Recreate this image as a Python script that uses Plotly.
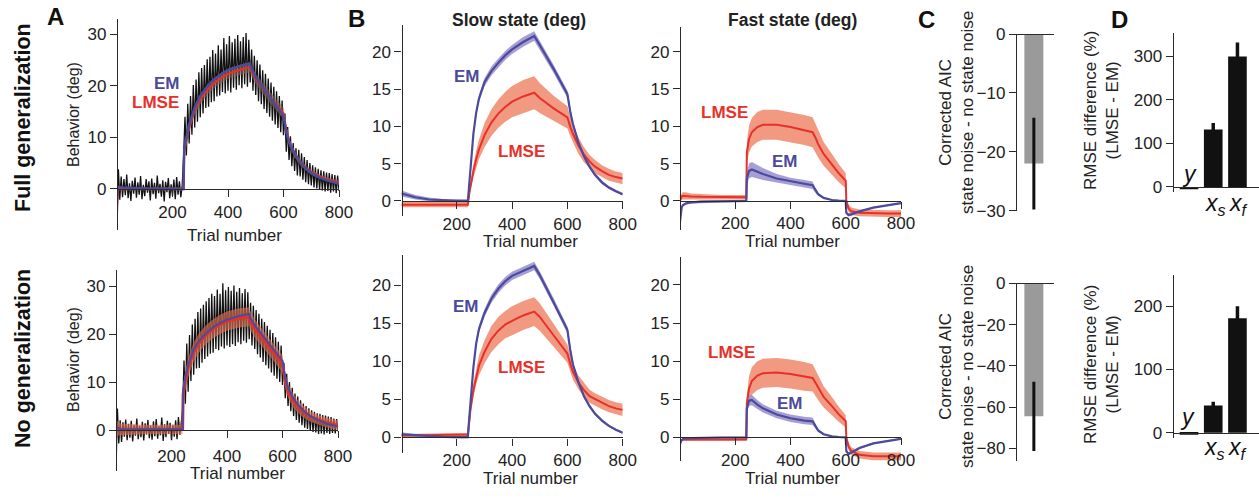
import plotly.graph_objects as go

W, H = 1259, 502
FONT = "Liberation Sans, Arial, sans-serif"

# ---------------- DATA ----------------
# Panel A: measured behaviour, one value every 5th trial (0..800)
A1_behavior = [
    -8.0, 3.8, -2.1, 2.4, -1.6, 1.9, -1.2, 2.8,
    -1.8, 1.1, -2.3, 1.6, -0.9, 2.2, -1.7, 1.3,
    -1.1, 2.5, -2.0, 0.8, -1.4, 1.9, -0.7, 1.5,
    -2.2, 2.0, -1.0, 1.2, -1.9, 2.6, -0.8, 1.0,
    -1.5, 1.7, -2.4, 1.4, -0.6, 2.1, -1.8, 0.9,
    -1.3, 1.8, -2.0, 2.3, -1.1, 1.5, -1.6, 0.7,
    6.5, 14.0, 6.5, 16.5, 8.8, 18.0, 10.5, 20.1,
    11.9, 21.2, 13.0, 22.6, 13.9, 23.4, 14.6, 24.0,
    15.7, 25.1, 15.9, 25.6, 16.8, 26.9, 17.0, 26.2,
    17.9, 27.8, 18.1, 27.0, 18.8, 29.2, 18.5, 28.0,
    19.0, 29.6, 18.7, 28.4, 19.6, 29.1, 19.2, 29.8,
    20.1, 28.6, 19.5, 29.4, 20.3, 30.2, 19.8, 28.9,
    20.6, 27.0, 19.0, 25.8, 18.2, 24.9, 17.0, 24.1,
    16.4, 23.0, 15.5, 22.3, 14.7, 21.4, 14.0, 20.6,
    13.2, 19.8, 12.5, 18.9, 11.8, 18.0, 11.0, 17.1,
    10.4, 14.6, 7.2, 12.0, 5.6, 10.2, 4.4, 8.9,
    3.5, 7.9, 2.6, 7.6, 2.4, 6.9, 1.8, 6.2,
    1.3, 5.6, 0.9, 5.0, 0.7, 4.6, 0.3, 4.2,
    0.1, 3.9, -0.2, 3.6, -0.3, 3.4, -0.5, 3.2,
    -0.4, 3.1, -0.7, 2.9, -0.5, 2.7, -0.8, 2.6,
    -0.4]
A2_behavior = [
    -8.5, 4.5, -2.8, 2.0, -2.5, 1.6, -1.4, 2.2,
    -2.1, 1.3, -1.6, 1.9, -2.4, 1.1, -1.2, 2.4,
    -1.9, 0.9, -1.5, 1.7, -2.2, 1.4, -0.9, 2.1,
    -1.7, 1.0, -2.0, 1.8, -1.3, 2.3, -1.8, 0.8,
    -1.1, 2.6, -2.3, 1.2, -1.5, 1.9, -0.8, 1.5,
    -2.1, 1.1, -1.4, 2.0, -1.9, 2.7, -1.0, 1.3,
    4.0, 14.5, 5.5, 18.0, 8.0, 19.8, 10.2, 22.0,
    11.5, 23.2, 12.8, 24.6, 12.9, 25.3, 14.0, 26.1,
    14.8, 26.8, 15.3, 27.5, 15.9, 28.4, 16.1, 27.9,
    16.9, 29.3, 16.6, 28.4, 17.4, 30.6, 17.0, 29.1,
    17.6, 29.8, 17.3, 29.0, 17.9, 30.1, 17.5, 28.8,
    18.3, 29.6, 17.9, 28.5, 18.6, 29.4, 18.2, 28.7,
    18.9, 26.5, 17.6, 25.9, 16.9, 25.0, 15.8, 24.2,
    15.1, 23.2, 14.2, 22.5, 13.5, 21.7, 12.8, 20.9,
    12.0, 20.2, 11.3, 19.3, 10.7, 18.4, 10.0, 17.6,
    9.4, 14.0, 6.6, 11.7, 5.0, 10.0, 3.9, 8.8,
    2.9, 7.6, 2.1, 7.0, 1.5, 6.2, 1.0, 5.5,
    0.5, 5.0, 0.2, 4.5, -0.1, 4.1, -0.4, 3.8,
    -0.5, 3.5, -0.8, 3.4, -0.7, 3.1, -0.9, 3.0,
    -0.6, 2.8, -0.8, 2.7, -0.6, 2.4, -0.7, 2.3,
    -0.3]
A_trials = list(range(0, 801, 5))

# Panel A: model predictions of behaviour
Am_trials = [0, 4, 20, 100, 240, 242, 250, 260, 280, 300, 325, 350, 375, 400, 440, 480, 482,
             500, 550, 600, 610, 620, 640, 660, 680, 700, 730, 760, 800]
A1_em = [-1.5, 0.4, 0.3, 0.1, 0.0, 7.5, 10.0, 12.5, 15.8, 18.0, 19.8, 21.2, 22.2, 23.0, 23.8, 24.3, 23.6,
         21.6, 17.8, 14.2, 11.0, 9.0, 6.8, 5.2, 4.0, 3.1, 2.2, 1.6, 1.0]
A1_lmse = [-3.0, 0.0, 0.1, 0.0, 0.0, 7.0, 9.5, 12.0, 15.3, 17.4, 19.2, 20.5, 21.5, 22.3, 23.0, 23.6, 23.0,
           21.3, 17.8, 14.6, 11.5, 9.2, 6.8, 5.2, 4.1, 3.2, 2.4, 1.8, 1.3]
A1_band = [0.3, 0.3, 0.3, 0.3, 0.3, 0.8, 0.9, 1.0, 1.0, 1.0, 1.0, 1.0, 1.0, 1.0, 1.0, 1.0, 1.0,
           1.0, 1.1, 1.1, 0.9, 0.8, 0.7, 0.6, 0.5, 0.5, 0.4, 0.4, 0.4]
A2_em = [0.0, 0.5, 0.1, 0.1, 0.2, 8.0, 11.0, 13.5, 16.8, 18.6, 20.2, 21.4, 22.3, 23.0, 23.7, 24.2, 23.5,
         21.8, 18.1, 14.4, 10.8, 8.8, 6.5, 5.0, 3.8, 2.9, 2.0, 1.3, 0.7]
A2_lmse = [0.0, 0.3, 0.1, 0.1, 0.1, 7.5, 10.5, 13.0, 16.3, 18.2, 19.9, 21.1, 22.0, 22.7, 23.3, 23.6, 23.0,
           21.2, 17.5, 13.8, 10.2, 8.2, 6.0, 4.6, 3.6, 2.8, 2.1, 1.5, 1.0]
A2_band = [1.5, 1.5, 1.2, 1.0, 1.0, 1.8, 2.0, 2.0, 2.0, 2.0, 2.0, 2.0, 2.0, 2.0, 2.0, 2.0, 2.0,
           1.9, 1.8, 1.8, 1.6, 1.5, 1.4, 1.3, 1.2, 1.1, 1.0, 1.0, 1.0]

# Panel B: slow state
S_trials = [0, 20, 50, 100, 150, 200, 240, 245, 250, 260, 270, 280, 300, 325, 350, 375, 400, 440,
            480, 500, 550, 600, 610, 620, 640, 660, 680, 700, 725, 750, 775, 800]
S1_em = [1.0, 0.8, 0.5, 0.2, 0.08, 0.02, 0.0, 2.5, 5.0, 9.0, 11.8, 13.7, 15.9, 17.4, 18.5, 19.5, 20.3, 21.3,
         22.1, 20.9, 17.7, 14.3, 12.0, 10.3, 7.8, 6.0, 4.6, 3.5, 2.5, 1.8, 1.3, 0.9]
S1_em_sd = [0.4, 0.35, 0.3, 0.25, 0.2, 0.2, 0.2, 0.3, 0.3, 0.4, 0.45, 0.5, 0.55, 0.6, 0.6, 0.6, 0.6, 0.65,
            0.65, 0.6, 0.55, 0.5, 0.45, 0.4, 0.35, 0.3, 0.3, 0.25, 0.25, 0.2, 0.2, 0.2]
S1_lmse = [-0.5, -0.5, -0.5, -0.5, -0.5, -0.5, -0.5, 1.0, 2.2, 4.0, 5.6, 6.9, 8.8, 10.5, 11.7, 12.6, 13.3, 14.0,
           14.5, 13.8, 12.4, 11.2, 10.0, 9.0, 7.4, 6.2, 5.3, 4.6, 4.0, 3.5, 3.2, 3.0]
S1_lmse_sd = [0.35, 0.35, 0.35, 0.35, 0.35, 0.35, 0.35, 0.4, 0.6, 0.9, 1.1, 1.3, 1.6, 1.8, 1.9, 2.0, 2.1, 2.2,
              2.2, 2.0, 1.7, 1.5, 1.3, 1.2, 1.1, 1.0, 0.9, 0.9, 0.8, 0.8, 0.75, 0.75]
S2_em = [0.4, 0.35, 0.25, 0.12, 0.06, 0.03, 0.02, 2.5, 5.0, 9.2, 12.3, 14.2, 16.3, 18.2, 19.5, 20.5, 21.2, 21.9,
         22.5, 21.3, 17.8, 14.1, 11.5, 9.6, 7.2, 5.4, 4.1, 3.1, 2.2, 1.5, 1.0, 0.6]
S2_em_sd = [0.25, 0.2, 0.2, 0.15, 0.15, 0.15, 0.15, 0.25, 0.3, 0.4, 0.45, 0.5, 0.5, 0.55, 0.55, 0.55, 0.55, 0.55,
            0.55, 0.5, 0.5, 0.45, 0.4, 0.35, 0.3, 0.3, 0.25, 0.2, 0.2, 0.15, 0.15, 0.15]
S2_lmse = [0.25, 0.27, 0.28, 0.3, 0.32, 0.35, 0.37, 2.2, 3.8, 6.2, 8.0, 9.4, 11.2, 12.9, 14.0, 14.8, 15.3, 16.0,
           16.5, 15.8, 13.4, 11.0, 9.7, 8.6, 7.2, 6.2, 5.4, 5.0, 4.5, 4.1, 3.8, 3.6]
S2_lmse_sd = [0.2, 0.2, 0.2, 0.2, 0.2, 0.2, 0.2, 0.4, 0.6, 0.9, 1.1, 1.3, 1.5, 1.7, 1.8, 1.8, 1.9, 1.9,
              1.9, 1.8, 1.5, 1.2, 1.1, 1.0, 0.9, 0.9, 0.85, 0.8, 0.8, 0.8, 0.8, 0.8]

# Panel B: fast state
F_trials = [0, 3, 6, 10, 20, 40, 80, 150, 240, 242, 250, 260, 280, 300, 350, 400, 450, 480, 490, 500,
            520, 550, 575, 600, 602, 610, 620, 650, 700, 750, 800]
F1_lmse = [0.0, 0.4, 0.6, 0.7, 0.7, 0.6, 0.55, 0.5, 0.5, 6.5, 8.3, 9.2, 9.9, 10.2, 10.2, 9.9, 9.5, 9.2, 8.5, 7.6,
           6.3, 4.9, 3.7, 2.7, 0.0, -1.0, -1.4, -1.6, -1.7, -1.7, -1.7]
F1_lmse_sd = [0.2, 0.3, 0.4, 0.45, 0.45, 0.4, 0.35, 0.3, 0.3, 1.4, 1.8, 1.9, 2.0, 2.0, 2.0, 2.0, 2.0, 2.0, 1.9, 1.8,
              1.6, 1.4, 1.2, 1.0, 0.5, 0.5, 0.5, 0.45, 0.45, 0.45, 0.45]
F1_em = [-2.8, -1.5, -0.9, -0.6, -0.35, -0.2, -0.1, -0.05, 0.0, 3.0, 4.0, 4.2, 3.9, 3.6, 3.0, 2.6, 2.3, 2.1, 1.4, 0.9,
         0.4, 0.12, 0.04, 0.0, -1.6, -1.9, -1.8, -1.4, -0.9, -0.55, -0.3]
F1_em_sd = [0.15, 0.15, 0.15, 0.15, 0.15, 0.15, 0.15, 0.15, 0.15, 0.8, 1.0, 1.0, 0.9, 0.8, 0.6, 0.5, 0.5, 0.5, 0.3, 0.2,
            0.1, 0.05, 0.05, 0.05, 0.2, 0.2, 0.2, 0.15, 0.1, 0.1, 0.1]
F2_lmse = [-0.5, -0.4, -0.35, -0.3, -0.3, -0.3, -0.3, -0.3, -0.3, 4.5, 6.4, 7.4, 8.1, 8.4, 8.5, 8.3, 8.0, 7.8, 7.2, 6.5,
           5.3, 4.1, 3.0, 2.1, 0.0, -1.2, -1.8, -2.3, -2.5, -2.5, -2.5]
F2_lmse_sd = [0.15, 0.15, 0.15, 0.15, 0.15, 0.15, 0.15, 0.15, 0.15, 1.0, 1.6, 1.8, 1.9, 1.9, 1.9, 1.9, 1.9, 1.8, 1.7, 1.6,
              1.4, 1.2, 1.0, 0.8, 0.5, 0.5, 0.5, 0.5, 0.5, 0.5, 0.5]
F2_em = [-0.9, -0.5, -0.35, -0.25, -0.15, -0.1, -0.05, -0.03, -0.02, 3.8, 4.8, 4.9, 4.3, 3.8, 3.0, 2.5, 2.2, 2.1, 1.5, 0.9,
         0.4, 0.12, 0.04, 0.0, -1.8, -2.2, -2.0, -1.4, -0.8, -0.45, -0.2]
F2_em_sd = [0.1, 0.1, 0.1, 0.1, 0.1, 0.1, 0.1, 0.1, 0.1, 0.6, 0.7, 0.7, 0.6, 0.55, 0.5, 0.5, 0.5, 0.5, 0.3, 0.2,
            0.1, 0.05, 0.05, 0.05, 0.2, 0.2, 0.2, 0.15, 0.1, 0.1, 0.1]

# Panel C: corrected AIC difference
C1_value, C1_err = -22.0, 7.8
C2_value, C2_err = -64.5, 16.8

# Panel D: RMSE difference (%)
D_labels = ["<i>y</i>", "<i>x</i><sub><i>s</i></sub>", "<i>x</i><sub><i>f</i></sub>"]
D1_values = [-5, 132, 300]
D1_err = [0, 15, 32]
D2_values = [-3, 43, 181]
D2_err = [0, 6, 19]

EM_LINE = "#4b4a9c"
EM_BAND = "rgba(150,142,205,0.85)"
LMSE_LINE = "#e8302a"
LMSE_BAND = "rgba(240,135,108,0.85)"
AXC = "#2a2a2a"


def fx(px):
    return px / W


def fy(py):
    return 1 - py / H


fig = go.Figure()
layout = dict(width=W, height=H, margin=dict(l=0, r=0, t=0, b=0, pad=0, autoexpand=False),
              autosize=False,
              paper_bgcolor="white", plot_bgcolor="rgba(0,0,0,0)", showlegend=False,
              font=dict(family=FONT, size=17, color="#222"))
annotations = []

AX = dict(showline=True, linecolor=AXC, linewidth=1.4, ticks="outside", ticklen=7, tickwidth=1.4,
          tickcolor=AXC, showgrid=False, zeroline=False, fixedrange=True, automargin=False,
          tickfont=dict(family=FONT, size=17, color="#222"))


def axname(n):
    return "" if n == 1 else str(n)


def set_axes(n, x0, x1, xr, yr, ytop, ybot, yticks, xticks=None, standoff=None):
    zero_px = ybot - (0 - yr[0]) / (yr[1] - yr[0]) * (ybot - ytop)
    xa = dict(AX, domain=[fx(x0), fx(x1)], range=xr, anchor="free", position=fy(zero_px))
    if xticks is None:
        xa.update(ticks="", showticklabels=False)
    else:
        xa.update(tickvals=xticks)
    if standoff is not None:
        xa.update(ticklabelstandoff=standoff)
    ya = dict(AX, domain=[fy(ybot), fy(ytop)], range=yr, tickvals=yticks, anchor="free", position=fx(x0))
    layout["xaxis" + axname(n)] = xa
    layout["yaxis" + axname(n)] = ya


def line(n, x, y, color, width):
    fig.add_trace(go.Scatter(x=x, y=y, mode="lines", line=dict(color=color, width=width),
                             xaxis="x" + axname(n), yaxis="y" + axname(n), hoverinfo="skip"))


def band(n, x, y, sd, color):
    up = [a + b for a, b in zip(y, sd)]
    lo = [a - b for a, b in zip(y, sd)]
    fig.add_trace(go.Scatter(x=list(x) + list(x)[::-1], y=up + lo[::-1], mode="lines", fill="toself",
                             fillcolor=color, line=dict(width=0), xaxis="x" + axname(n),
                             yaxis="y" + axname(n), hoverinfo="skip"))


def ann(text, xpx, ypx, size=17, color="#222", bold=False, angle=0):
    if bold:
        text = "<b>" + text + "</b>"
    annotations.append(dict(text=text, x=fx(xpx), y=fy(ypx), xref="paper", yref="paper",
                            showarrow=False, textangle=angle, xanchor="center", yanchor="middle",
                            font=dict(family=FONT, size=size, color=color)))


TRIAL_TICKS = [200, 400, 600, 800]

# ----- Panel A -----
set_axes(1, 117, 339, [0, 800], [-8, 33], 18.5, 230.3, [0, 10, 20, 30], xticks=TRIAL_TICKS)
line(1, A_trials, A1_behavior, "#111111", 1.3)
band(1, Am_trials, A1_lmse, A1_band, "rgba(150,110,90,0.55)")
line(1, Am_trials, A1_lmse, LMSE_LINE, 2.2)
line(1, Am_trials, A1_em, EM_LINE, 2.4)

set_axes(6, 116, 338, [0, 800], [-8.5, 33.3], 270.2, 470.8, [0, 10, 20, 30], xticks=TRIAL_TICKS, standoff=3)
line(6, A_trials, A2_behavior, "#111111", 1.3)
band(6, Am_trials, A2_lmse, A2_band, "rgba(240,120,90,0.6)")
line(6, Am_trials, A2_lmse, LMSE_LINE, 3.0)
line(6, Am_trials, A2_em, EM_LINE, 2.0)

# ----- Panel B -----
panels_B = [
    (2, 401.5, 622.7, [-2, 23.6], 24.8, 215.9, S_trials, S1_em, S1_em_sd, S1_lmse, S1_lmse_sd),
    (3, 680, 901, [-3.9, 23.3], 27, 230, F_trials, F1_em, F1_em_sd, F1_lmse, F1_lmse_sd),
    (7, 401.5, 622.7, [-2.1, 23.9], 255.3, 453.3, S_trials, S2_em, S2_em_sd, S2_lmse, S2_lmse_sd),
    (8, 680, 901, [-3.1, 23.7], 256.8, 460.9, F_trials, F2_em, F2_em_sd, F2_lmse, F2_lmse_sd),
]
for n, x0, x1, yr, yt, yb, tr, em, emsd, lm, lmsd in panels_B:
    set_axes(n, x0, x1, [0, 800], yr, yt, yb, [0, 5, 10, 15, 20], xticks=TRIAL_TICKS)
    band(n, tr, lm, lmsd, LMSE_BAND)
    band(n, tr, em, emsd, EM_BAND)
    line(n, tr, lm, LMSE_LINE, 2.0)
    line(n, tr, em, EM_LINE, 2.2)

# ----- Panel C -----
for n, ytop, ybot, yr, ticks, val, err in [
        (4, 34, 210.7, [-30, 0], [0, -10, -20, -30], C1_value, C1_err),
        (9, 283.3, 460.7, [-86, 0], [0, -20, -40, -60, -80], C2_value, C2_err)]:
    set_axes(n, 1016, 1054, [0, 1], yr, ytop, ybot, ticks)
    fig.add_trace(go.Bar(x=[0.47], y=[val], width=[0.5], marker=dict(color="#9a9a9a", line=dict(width=0)),
                         error_y=dict(type="data", array=[err], color="#111", thickness=3, width=0),
                         xaxis="x" + axname(n), yaxis="y" + axname(n), hoverinfo="skip"))

# ----- Panel D -----
for n, ytop, ybot, yr, ticks, vals, errs in [
        (5, 33.4, 192.2, [-12, 353], [0, 100, 200, 300], D1_values, D1_err),
        (10, 275, 437.8, [-8, 249.5], [0, 100, 200], D2_values, D2_err)]:
    set_axes(n, 1172.7, 1259, [-0.674, 2.89], yr, ytop, ybot, ticks)
    fig.add_trace(go.Bar(x=[0, 1, 2], y=vals, width=0.77, marker=dict(color="#111", line=dict(width=0)),
                         error_y=dict(type="data", array=errs, color="#111", thickness=3.5, width=0),
                         xaxis="x" + axname(n), yaxis="y" + axname(n), hoverinfo="skip"))

# ----- Text -----
for xpx, ypx in [(234, 235), (530, 241), (792, 241), (237, 473), (530, 478), (792, 478)]:
    ann("Trial number", xpx, ypx, size=17)
ann("Behavior (deg)", 73, 115, size=16, angle=-90)
ann("Behavior (deg)", 73, 360, size=16, angle=-90)
ann("Corrected AIC<br>state noise - no state noise", 956, 113, size=17, angle=-90)
ann("Corrected AIC<br>state noise - no state noise", 956, 367, size=17, angle=-90)
ann("RMSE difference (%)<br>(LMSE - EM)", 1101, 111, size=17, angle=-90)
ann("RMSE difference (%)<br>(LMSE - EM)", 1101, 365, size=17, angle=-90)

ann("Slow state (deg)", 519, 20, size=17.5, bold=True)
ann("Fast state (deg)", 792, 20, size=17.5, bold=True)
for letter, xpx, ypx in [("A", 55, 17), ("B", 356, 19), ("C", 927, 20), ("D", 1119, 20)]:
    ann(letter, xpx, ypx, size=24, bold=True, color="#111")
ann("Full generalization", 23, 118, size=21.5, bold=True, angle=-90, color="#111")
ann("No generalization", 23, 359, size=21.5, bold=True, angle=-90, color="#111")

for text, xpx, ypx, col in [
        ("EM", 167, 84, EM_LINE), ("LMSE", 155, 102, LMSE_LINE),
        ("EM", 467, 77, EM_LINE), ("LMSE", 521, 152, LMSE_LINE),
        ("LMSE", 724, 112, LMSE_LINE), ("EM", 785, 162, EM_LINE),
        ("EM", 466, 306, EM_LINE), ("LMSE", 521, 367, LMSE_LINE),
        ("LMSE", 731, 352, LMSE_LINE), ("EM", 790, 403, EM_LINE)]:
    ann(text, xpx, ypx, size=17, bold=True, color=col)

for lab, xpx, ypx in [(D_labels[0], 1189, 174), (D_labels[1], 1215, 204), (D_labels[2], 1238, 204),
                      (D_labels[0], 1187, 417), (D_labels[1], 1214, 448), (D_labels[2], 1237, 448)]:
    ann(lab, xpx, ypx, size=23, color="#111")

layout["annotations"] = annotations
fig.update_layout(**layout)
fig.write_html("out.html", config={"displayModeBar": False},
               post_script="document.body.style.margin='0px';document.body.style.padding='0px';"
                           "document.documentElement.style.overflow='hidden';")
